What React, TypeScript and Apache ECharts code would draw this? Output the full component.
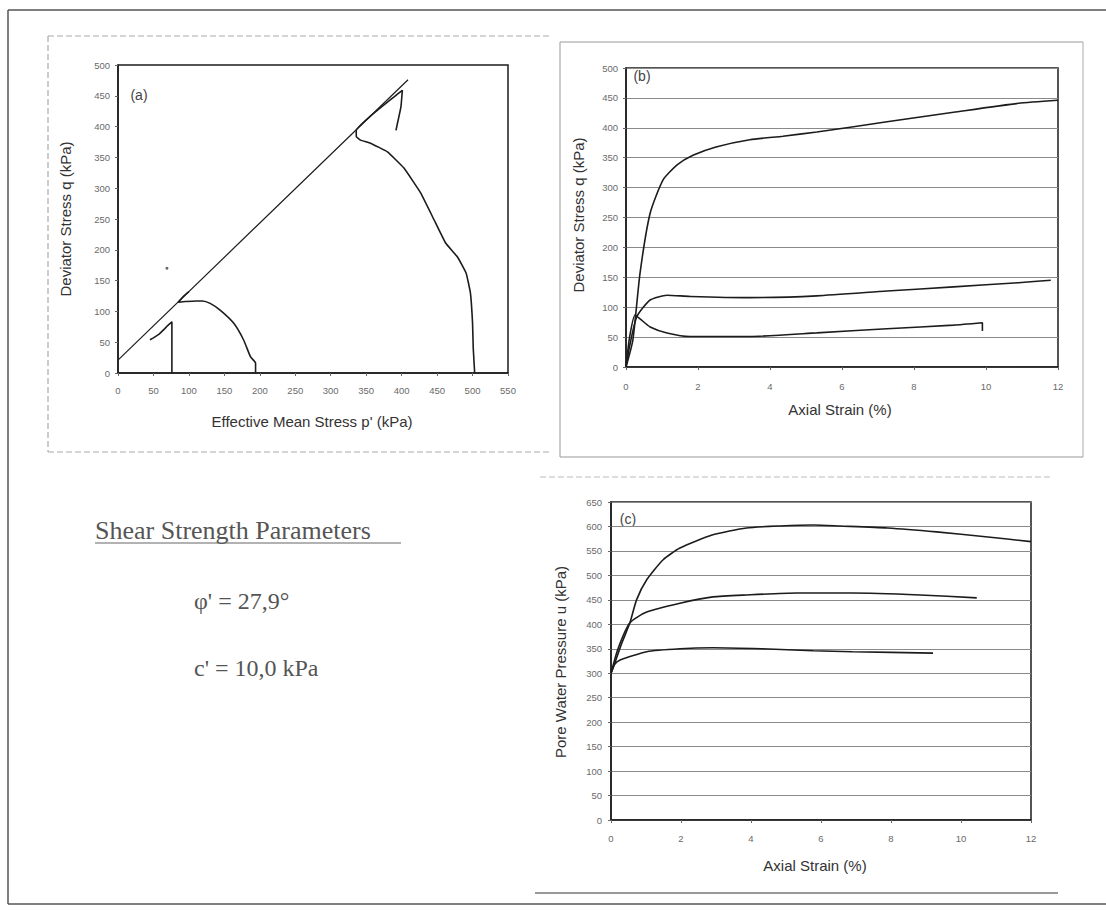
import React, { useEffect, useRef } from "react";
import * as echarts from "echarts";

// ---------- Panel (a): stress paths p'-q ----------
const aFailureLine: number[][] = [[0, 21], [409, 476]];
const aPath1: number[][] = [[76, 0], [76, 40], [76, 83], [70, 77], [66, 72], [58, 63], [50, 57], [45, 54]];
const aPath2: number[][] = [
  [194, 0], [194, 16], [187, 26], [177, 54], [163, 81], [144, 102], [130, 113],
  [119, 117], [110, 117], [95, 116], [85, 115], [92, 124], [100, 132],
];
const aPath3: number[][] = [
  [503, 0], [501, 40], [500, 81], [497, 130], [491, 162], [479, 188], [462, 211],
  [446, 248], [427, 292], [403, 333], [380, 359], [356, 373], [342, 378], [336, 384],
  [336, 394], [360, 421], [389, 448], [401, 459], [399, 432], [392, 394],
];
const aDot: number[][] = [[69, 170]];

// ---------- Panel (b): deviator stress vs axial strain ----------
const bHigh: number[][] = [
  [0, 0], [0.19, 45], [0.39, 157], [0.67, 257], [1.03, 313], [1.42, 338], [1.86, 354],
  [2.5, 368], [3.44, 380], [4.36, 386], [5.3, 393], [7.25, 410], [9.1, 426], [10.9, 441], [12, 446],
];
const bMid: number[][] = [
  [0, 0], [0.1, 35], [0.3, 84], [0.67, 112], [1.14, 120], [1.78, 118], [3.44, 116],
  [5.3, 119], [7.25, 127], [9.1, 134], [10.9, 141], [11.8, 145],
];
const bLow: number[][] = [
  [0, 0], [0.1, 50], [0.25, 87], [0.4, 80], [0.67, 67], [1.14, 57], [1.78, 51], [3.44, 51],
  [5.3, 57], [7.25, 64], [9.1, 70], [9.9, 74], [9.9, 60],
];

// ---------- Panel (c): pore water pressure vs axial strain ----------
const cHigh: number[][] = [
  [0, 300], [0.07, 313], [0.3, 360], [0.54, 403], [0.73, 450], [1.02, 491], [1.49, 532],
  [1.97, 556], [2.91, 583], [3.87, 597], [4.83, 601], [5.8, 603], [6.54, 601], [7.9, 597],
  [9.3, 589], [10.7, 579], [12, 569],
];
const cMid: number[][] = [
  [0, 300], [0.2, 350], [0.54, 403], [1.02, 425], [1.97, 443], [2.91, 456], [3.87, 460],
  [5.3, 464], [6.9, 464], [8.83, 460], [10.45, 454],
];
const cLow: number[][] = [
  [0, 300], [0.1, 318], [0.26, 327], [1.02, 344], [1.97, 350], [2.91, 352], [4.3, 350],
  [5.78, 346], [6.9, 344], [9.2, 341],
];

// ---------- Texts ----------
const paramTitle = "Shear Strength Parameters";
const paramPhi = "φ' = 27,9°";
const paramC = "c' = 10,0 kPa";
const titleA = { x: "Effective Mean Stress p' (kPa)", y: "Deviator Stress q (kPa)", tag: "(a)" };
const titleB = { x: "Axial Strain (%)", y: "Deviator Stress q (kPa)", tag: "(b)" };
const titleC = { x: "Axial Strain (%)", y: "Pore Water Pressure u (kPa)", tag: "(c)" };

const INK = "#1c1c1c";
const LABEL = "#6a6a6a";
const SANS = "Liberation Sans, Arial, sans-serif";
const SERIF = "Liberation Serif, Times New Roman, serif";

function lineSeries(data: number[][], idx: number, width = 1.6, smooth: number = 0) {
  return {
    type: "line",
    xAxisIndex: idx,
    yAxisIndex: idx,
    data,
    showSymbol: false,
    smooth,
    lineStyle: { color: INK, width },
    itemStyle: { color: INK },
    silent: true,
  };
}

function valueAxis(gridIndex: number, min: number, max: number, interval: number, margin: number, split: boolean) {
  return {
    type: "value",
    gridIndex,
    min,
    max,
    interval,
    axisLine: { show: true, lineStyle: { color: INK, width: 1.5 } },
    axisTick: { show: true, length: 3, lineStyle: { color: "#666" } },
    axisLabel: { fontSize: 9.5, color: LABEL, margin, fontFamily: SANS },
    splitLine: { show: split, lineStyle: { color: "#8a8a8a", width: 1 } },
  };
}

function txt(x: number, y: number, text: string, size: number, opts: any = {}) {
  return {
    type: "text",
    x,
    y,
    rotation: opts.rotation || 0,
    style: {
      text,
      fontSize: size,
      fontFamily: opts.family || SANS,
      fill: opts.color || "#333",
      align: opts.align || "center",
      verticalAlign: "middle",
    },
    silent: true,
  };
}

function ln(x1: number, y1: number, x2: number, y2: number, color: string, width = 1, dash?: number[]) {
  return {
    type: "line",
    shape: { x1, y1, x2, y2 },
    style: { stroke: color, lineWidth: width, lineDash: dash },
    silent: true,
  };
}

export default function App() {
  const ref = useRef<HTMLDivElement>(null);
  useEffect(() => {
    if (!ref.current) return;
    const chart = echarts.init(ref.current, undefined, { renderer: "svg" });
    const option: any = {
      animation: false,
      backgroundColor: "#ffffff",
      grid: [
        { left: 118, top: 65, width: 390, height: 308, show: true, borderColor: INK, borderWidth: 1.5 },
        { left: 626, top: 68, width: 432, height: 299, show: true, borderColor: INK, borderWidth: 1.5 },
        { left: 611, top: 502, width: 420, height: 318, show: true, borderColor: INK, borderWidth: 1.5 },
      ],
      xAxis: [
        valueAxis(0, 0, 550, 50, 12, false),
        valueAxis(1, 0, 12, 2, 14, false),
        valueAxis(2, 0, 12, 2, 13, false),
      ],
      yAxis: [
        valueAxis(0, 0, 500, 50, 8, false),
        valueAxis(1, 0, 500, 50, 8, true),
        valueAxis(2, 0, 650, 50, 9, true),
      ],
      series: [
        lineSeries(aFailureLine, 0, 1.2),
        lineSeries(aPath1, 0),
        lineSeries(aPath2, 0, 1.6, 0.2),
        lineSeries(aPath3, 0, 1.6, 0.1),
        {
          type: "scatter",
          xAxisIndex: 0,
          yAxisIndex: 0,
          data: aDot,
          symbolSize: 3,
          itemStyle: { color: "#444" },
          silent: true,
        },
        lineSeries(bHigh, 1, 1.6, 0.2),
        lineSeries(bMid, 1, 1.6, 0.2),
        lineSeries(bLow, 1, 1.6, 0.2),
        lineSeries(cHigh, 2, 1.6, 0.2),
        lineSeries(cMid, 2, 1.6, 0.2),
        lineSeries(cLow, 2, 1.6, 0.2),
      ],
      graphic: [
        // page frame
        ln(8, 10, 1106, 10, "#555", 1.5),
        ln(8, 10, 8, 904, "#555", 1.5),
        ln(8, 904, 1106, 904, "#555", 1.5),
        // chart (a) frame
        ln(48, 36, 550, 36, "#aaa", 1, [6, 3]),
        ln(48, 36, 48, 452, "#999", 1, [6, 3]),
        ln(48, 452, 550, 452, "#aaa", 1, [6, 3]),
        // chart (b) frame
        ln(560, 42, 1083, 42, "#999", 1),
        ln(560, 42, 560, 457, "#999", 1),
        ln(1083, 42, 1083, 457, "#aaa", 1),
        ln(560, 457, 1083, 457, "#999", 1),
        // chart (c) frame lines
        ln(540, 477, 1053, 477, "#bbb", 1, [6, 3]),
        ln(535, 893, 1058, 893, "#777", 1.5),
        // panel tags
        txt(139, 95, titleA.tag, 14, { color: "#444" }),
        txt(642, 76, titleB.tag, 14, { color: "#444" }),
        txt(628, 519, titleC.tag, 14, { color: "#444" }),
        // axis titles
        txt(312, 421, titleA.x, 15),
        txt(65, 219, titleA.y, 15, { rotation: Math.PI / 2 }),
        txt(840, 409, titleB.x, 15),
        txt(578, 215, titleB.y, 15, { rotation: Math.PI / 2 }),
        txt(815, 865, titleC.x, 15),
        txt(560, 662, titleC.y, 15, { rotation: Math.PI / 2 }),
        // shear strength parameters
        txt(95, 530, paramTitle, 26, { family: SERIF, color: "#555", align: "left" }),
        ln(95, 543, 401, 543, "#666", 1.2),
        txt(194, 601, paramPhi, 24, { family: SERIF, color: "#555", align: "left" }),
        txt(194, 668, paramC, 24, { family: SERIF, color: "#555", align: "left" }),
      ],
    };
    chart.setOption(option);
    return () => chart.dispose();
  }, []);
  return (
    <div
      ref={ref}
      style={{ position: "fixed", left: 0, top: 0, width: 1106, height: 920, background: "#fff" }}
    />
  );
}
